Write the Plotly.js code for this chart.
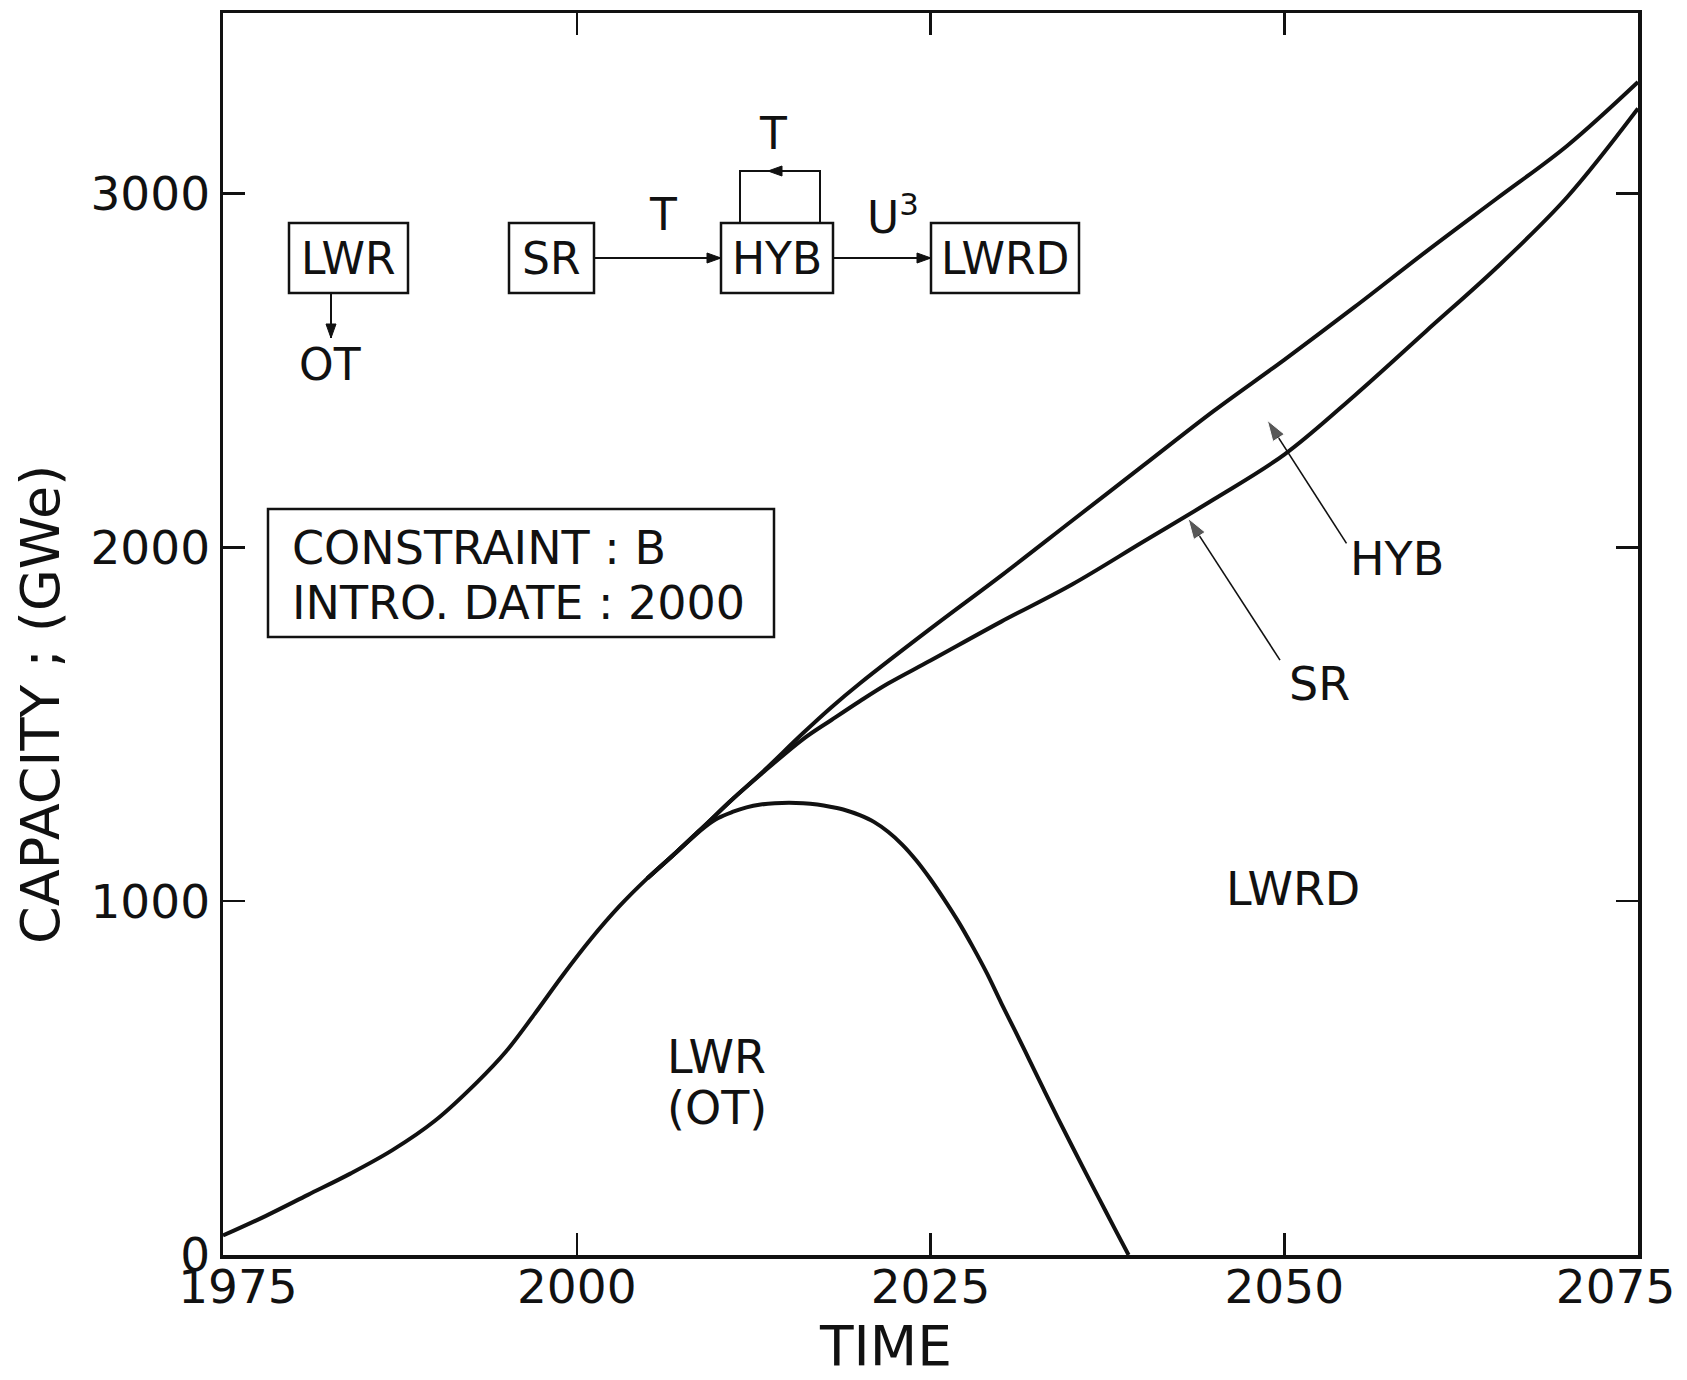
<!DOCTYPE html>
<html>
<head>
<meta charset="utf-8">
<script src="https://cdn.plot.ly/plotly-3.0.1.min.js"></script>
<style>
  html, body { margin: 0; padding: 0; background: #fff; }
  #chart { width: 1687px; height: 1380px; }
</style>
</head>
<body>
<div id="chart"></div>
<script>
// Installed nuclear capacity by reactor type, GWe
const lwrYears = [1975, 1978, 1981, 1984, 1987, 1990, 1993, 1995, 1997, 1999, 2001, 2003, 2005, 2007,
                  2009, 2010, 2011, 2012, 2013, 2014, 2015, 2016, 2017, 2018, 2019, 2020, 2021, 2022,
                  2023, 2024, 2025, 2026, 2027, 2028, 2029, 2030, 2031, 2032, 2033, 2034, 2035, 2036,
                  2037, 2038, 2039];
const lwrCap   = [55, 110, 170, 230, 297, 380, 490, 575, 680, 790, 893, 985, 1065, 1137,
                  1208, 1235, 1252, 1265, 1273, 1277, 1278, 1277, 1273, 1266, 1257, 1243, 1224, 1196,
                  1160, 1115, 1062, 1003, 940, 870, 795, 712, 632, 550, 468, 387, 308, 230,
                  153, 76, 0];

const srYears = [2005, 2007, 2009, 2011, 2013, 2016, 2018, 2020, 2022, 2025, 2030, 2035,
                 2040, 2045, 2050, 2055, 2060, 2065, 2070, 2075];
const srCap   = [1065, 1137, 1212, 1288, 1358, 1458, 1512, 1565, 1615, 1680, 1790, 1895,
                 2015, 2135, 2262, 2430, 2610, 2790, 2990, 3240];

const totalYears = [2005, 2007, 2009, 2011, 2013, 2016, 2018, 2020, 2025, 2030, 2035,
                    2040, 2045, 2050, 2055, 2060, 2065, 2070, 2075];
const totalCap   = [1065, 1137, 1212, 1288, 1360, 1475, 1548, 1615, 1770, 1920, 2075,
                    2230, 2385, 2530, 2680, 2835, 2985, 3135, 3315];

const xTickVals = [1975, 2000, 2025, 2050, 2075];
const xTickText = ['\u20071975', '2000', '2025', '2050', '2075\u2007\u2008'];
const yTickVals = [0, 1000, 2000, 3000];
const yTickText = ['0', '1000', '2000', '3000'];

const INK = '#111111';
const FONT = 'DejaVu Sans';

// figure geometry, used to place the flow diagram in pixel terms
const FIG_W = 1687, FIG_H = 1380;
const M = { l: 223, r: 49, t: 13, b: 125 };
const PW = FIG_W - M.l - M.r, PH = FIG_H - M.t - M.b;
const fx = x => (x - M.l) / PW;
const fy = y => (FIG_H - M.b - y) / PH;

const curve = (x, y) => ({
  x, y, type: 'scatter', mode: 'lines',
  line: { color: INK, width: 4, shape: 'spline', smoothing: 1 },
  hoverinfo: 'x+y', showlegend: false
});

// thin pointer from a region label to its curve, with an arrowhead at the tip
const pointer = (tail, tip) => ({
  x: [tail[0], tip[0]], y: [tail[1], tip[1]], type: 'scatter', mode: 'lines+markers',
  line: { color: INK, width: 1.6 },
  marker: { symbol: ['circle', 'arrow'], size: [0, 22], color: INK, angleref: 'previous' },
  hoverinfo: 'skip', showlegend: false
});

const traces = [
  curve(lwrYears, lwrCap), curve(srYears, srCap), curve(totalYears, totalCap),
  pointer([2054.4, 2011], [2048.8, 2359]),
  pointer([2049.7, 1681], [2043.2, 2082])
];

const shapes = [];
const annotations = [];

function rect(x0, y0, x1, y1, w) {
  shapes.push({ type: 'rect', xref: 'paper', yref: 'paper',
    x0: fx(x0), x1: fx(x1), y0: fy(y1), y1: fy(y0),
    line: { color: INK, width: w || 2.5 }, fillcolor: 'rgba(0,0,0,0)' });
}
function label(text, cx, cy, size, anchor, angle) {
  annotations.push({ xref: 'paper', yref: 'paper', x: fx(cx), y: fy(cy),
    text, showarrow: false, xanchor: anchor || 'center', yanchor: 'middle',
    textangle: angle || 0,
    font: { family: FONT, size: size || 46, color: INK } });
}
function head(x0, y0, x1, y1) {
  const dx = x1 - x0, dy = y1 - y0, len = Math.hypot(dx, dy);
  const ux = dx / len, uy = dy / len, L = 14, Wd = 5;
  const bx = x1 - ux * L, by = y1 - uy * L;
  const p1 = [bx - uy * Wd, by + ux * Wd], p2 = [bx + uy * Wd, by - ux * Wd];
  shapes.push({ type: 'path', xref: 'paper', yref: 'paper',
    path: `M ${fx(x1)},${fy(y1)} L ${fx(p1[0])},${fy(p1[1])} L ${fx(p2[0])},${fy(p2[1])} Z`,
    line: { color: INK, width: 1 }, fillcolor: INK });
}
function arrow(x0, y0, x1, y1) {
  shapes.push({ type: 'line', xref: 'paper', yref: 'paper',
    x0: fx(x0), y0: fy(y0), x1: fx(x1), y1: fy(y1), line: { color: INK, width: 2 } });
  head(x0, y0, x1, y1);
}

// flow diagram: LWR -> OT ; SR -T-> HYB (T recycle) -U3-> LWRD
rect(289, 223, 408, 293);  label('LWR', 348, 258, 44);
arrow(331, 293, 331, 338); label('OT', 330, 364, 44);
rect(509, 223, 594, 293);  label('SR', 551, 258, 44);
arrow(594, 258, 721, 258); label('T', 663, 214, 44);
rect(721, 223, 833, 293);  label('HYB', 777, 258, 44);
shapes.push({ type: 'path', xref: 'paper', yref: 'paper',
  path: `M ${fx(740)},${fy(223)} L ${fx(740)},${fy(171)} L ${fx(820)},${fy(171)} L ${fx(820)},${fy(223)}`,
  line: { color: INK, width: 2 } });
head(800, 171, 768, 171);  label('T', 773, 133, 44);
arrow(833, 258, 931, 258); label('U<sup>3</sup>', 893, 215, 44);
rect(931, 223, 1079, 293); label('LWRD', 1005, 258, 44);

// scenario box
rect(268, 509, 774, 637);
label('CONSTRAINT : B', 290, 548, 46, 'left');
label('INTRO. DATE : 2000', 290, 603, 46, 'left');

// axis titles
label('CAPACITY ; (GWe)', 40, 705, 54, 'center', -90);
label('TIME', 885, 1346, 55);

// region labels
const regionFont = { family: FONT, size: 46, color: INK };
annotations.push(
  { x: 2009.9, y: 560, xref: 'x', yref: 'y', text: 'LWR', showarrow: false, font: regionFont },
  { x: 2009.9, y: 415, xref: 'x', yref: 'y', text: '(OT)', showarrow: false, font: regionFont },
  { x: 2050.6, y: 1035, xref: 'x', yref: 'y', text: 'LWRD', showarrow: false, font: regionFont },
  { x: 2058.0, y: 1968, xref: 'x', yref: 'y', text: 'HYB', showarrow: false, font: regionFont },
  { x: 2052.5, y: 1615, xref: 'x', yref: 'y', text: 'SR', showarrow: false, font: regionFont }
);

const axisCommon = {
  showline: true, linecolor: INK, linewidth: 3.5, mirror: 'ticks',
  ticks: 'inside', ticklen: 22, tickwidth: 2.5, tickcolor: INK,
  showgrid: false, zeroline: false, fixedrange: true,
  tickfont: { family: FONT, size: 47, color: INK }
};

const layout = {
  width: FIG_W, height: FIG_H,
  margin: M,
  paper_bgcolor: '#ffffff', plot_bgcolor: '#ffffff',
  font: { family: FONT, color: INK },
  showlegend: false,
  xaxis: Object.assign({}, axisCommon, {
    range: [1975, 2075], tickvals: xTickVals, ticktext: xTickText,
    ticklabelstandoff: -12, ticklabeloverflow: 'allow'
  }),
  yaxis: Object.assign({}, axisCommon, {
    range: [0, 3510], tickvals: yTickVals, ticktext: yTickText
  }),
  shapes, annotations
};

Plotly.newPlot('chart', traces, layout, { staticPlot: true, displayModeBar: false });
</script>
</body>
</html>
